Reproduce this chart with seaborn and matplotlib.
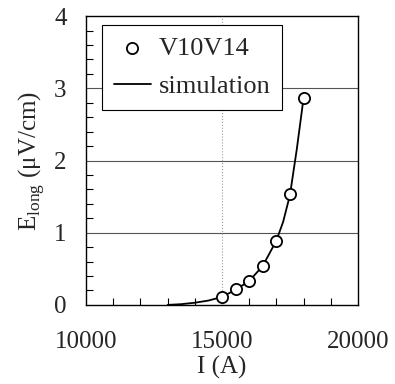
import numpy as np
import pandas as pd
import matplotlib
matplotlib.use('Agg')
import matplotlib.pyplot as plt
import seaborn as sns
from matplotlib.ticker import MultipleLocator

# measured points (V10V14)
meas_I = [15000, 15500, 16000, 16500, 17000, 17500, 18000]
meas_E = [0.11, 0.22, 0.33, 0.54, 0.88, 1.54, 2.86]

# simulation curve
sim_I = [13000, 13500, 14000, 14500, 15000, 15500, 16000, 16500, 17000, 17250, 17500, 17750, 18000]
sim_E = [0.0, 0.01, 0.03, 0.06, 0.11, 0.21, 0.33, 0.54, 0.89, 1.15, 1.52, 2.15, 2.86]

sns.set_style('white')
plt.rcParams['font.family'] = ['Liberation Serif', 'DejaVu Serif']
plt.rcParams['mathtext.fontset'] = 'custom'
plt.rcParams['mathtext.rm'] = 'Liberation Serif'

fig = plt.figure(figsize=(3.95, 3.84), dpi=100)
ax = fig.add_axes([0.218, 0.206, 0.688, 0.752])

ax.axhline(1, color='#555555', lw=0.8, zorder=0)
ax.axhline(2, color='#555555', lw=0.8, zorder=0)
ax.axhline(3, color='#555555', lw=0.8, zorder=0)
ax.axvline(15000, color='#999999', lw=0.8, ls=':', zorder=0)

sns.lineplot(x=sim_I, y=sim_E, ax=ax, color='black', lw=1.3, label='simulation', zorder=2)
sns.scatterplot(x=meas_I, y=meas_E, ax=ax, marker='o', s=65, facecolor='white',
                edgecolor='black', linewidth=1.3, label='V10V14', zorder=3)

ax.set_xlim(10000, 20000)
ax.set_ylim(0, 4)
ax.xaxis.set_major_locator(MultipleLocator(5000))
ax.xaxis.set_minor_locator(MultipleLocator(1000))
ax.yaxis.set_major_locator(MultipleLocator(1))
ax.yaxis.set_minor_locator(MultipleLocator(0.2))
ax.tick_params(axis='both', which='both', direction='in', labelsize=18,
               bottom=True, left=True, top=False, right=False, color='black')
ax.tick_params(axis='x', which='major', length=0, pad=19)
ax.tick_params(axis='x', which='minor', length=5, width=0.8)
ax.tick_params(axis='y', which='major', length=0, pad=14)
ax.tick_params(axis='y', which='minor', length=5, width=0.8)
for s in ax.spines.values():
    s.set_color('black')
    s.set_linewidth(1.0)

ax.set_xlabel('I (A)', fontsize=18, labelpad=2)
ax.set_ylabel(r'E$_{\mathrm{long}}$ (μV/cm)', fontsize=18, labelpad=5)

handles, labels = ax.get_legend_handles_labels()
order = [labels.index('V10V14'), labels.index('simulation')]
leg = ax.legend([handles[i] for i in order], [labels[i] for i in order],
                loc='upper left', bbox_to_anchor=(0.058, 0.97), fontsize=19,
                frameon=True, fancybox=False, edgecolor='black', framealpha=1,
                handlelength=1.4, handletextpad=0.3, borderpad=0.45, labelspacing=0.55,
                borderaxespad=0)
leg.get_frame().set_linewidth(0.8)

fig.savefig('out.png', dpi=100)
